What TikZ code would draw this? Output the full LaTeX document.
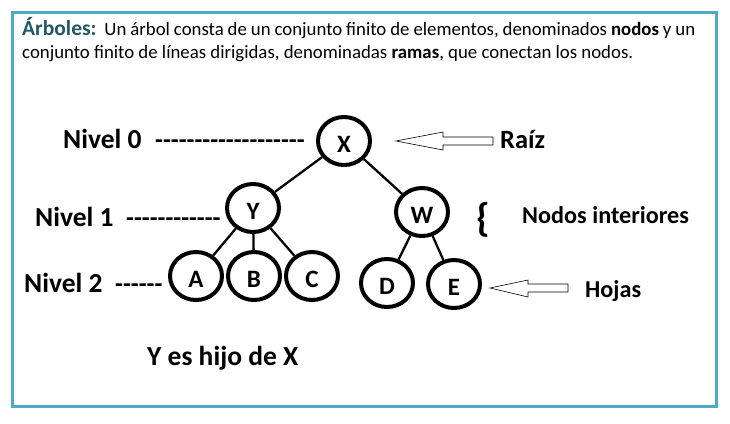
\documentclass[tikz,border=0pt]{standalone}
\usepackage{fontspec}
\newfontfamily\carl{Carlito}
\usetikzlibrary{shapes.geometric}
\definecolor{frameaqua}{HTML}{4BACC6}
\definecolor{headteal}{HTML}{215868}
\tikzset{
  treenode/.style={draw, ellipse, line width=4pt, minimum width=52pt, minimum height=48pt,
    inner sep=0pt, text height=22pt, text depth=0pt, font=\carl\bfseries\fontsize{25}{27}\selectfont},
  branch/.style={line width=2.3pt},
  biglabel/.style={anchor=base west, inner sep=0pt, font=\carl\bfseries\fontsize{27.5}{29}\selectfont},
  dashlabel/.style={anchor=base west, inner sep=0pt, font=\carl\bfseries\fontsize{25.7}{27}\selectfont},
  sidelabel/.style={anchor=base west, inner sep=0pt, font=\carl\bfseries\fontsize{24.2}{26}\selectfont},
  bodytext/.style={anchor=base west, inner sep=0pt, font=\carl\fontsize{18.8}{21}\selectfont},
  hollowarrow/.style={draw=black, fill=white, line width=0.6pt, line join=miter}
}
\begin{document}
\begin{tikzpicture}[x=1pt,y=-1pt]
\useasboundingbox (0,0) rectangle (730,423);
% outer frame
\draw[frameaqua, line width=3pt] (12.5,12.5) rectangle (716.5,406.5);

% heading and definition (first line justified)
\node[bodytext] (def1) at (22,35) {\makebox[673pt][s]{{\color{headteal}\fontsize{21.5}{23}\selectfont\bfseries Árboles:}\ \ Un árbol consta de un conjunto finito de elementos, denominados \textbf{nodos} y un}};
\node[bodytext] (def2) at (22,58) {conjunto finito de líneas dirigidas, denominadas \textbf{ramas}, que conectan los nodos.};

% tree nodes
\node[treenode] (X) at (344,141) {X};
\node[treenode] (Y) at (253,208) {Y};
\node[treenode] (W) at (422,212) {W};
\node[treenode] (A) at (196,276) {A};
\node[treenode] (B) at (254,276) {B};
\node[treenode] (C) at (312,276) {C};
\node[treenode] (D) at (387,283) {D};
\node[treenode] (E) at (454,284) {E};

% branches
\draw[branch] (X) -- (Y);
\draw[branch] (X) -- (W);
\draw[branch] (Y) -- (A);
\draw[branch] (Y) -- (B);
\draw[branch] (Y) -- (C);
\draw[branch] (W) -- (D);
\draw[branch] (W) -- (E);

% level labels
\node[biglabel] (n0) at (63,148) {Nivel 0};
\node[dashlabel] (d0) at (155,148) {-------------------};
\node[biglabel] (n1) at (35,226) {Nivel 1};
\node[dashlabel] (d1) at (126,226) {------------};
\node[biglabel] (n2) at (24,292) {Nivel 2};
\node[dashlabel] (d2) at (115,292) {------};

% root pointer
\node[biglabel, font=\carl\bfseries\fontsize{26.4}{28}\selectfont] (raiz) at (500,148) {Raíz};
\draw[hollowarrow] (493,137) -- (443,137) -- (443,132) -- (396,141) -- (443,150) -- (443,145) -- (493,145) -- cycle;

% interior nodes
\node[anchor=base west, inner sep=0pt, font=\carl\bfseries\fontsize{40}{42}\selectfont] (brace) at (476,231) {\{};
\node[sidelabel] (interior) at (522,223) {Nodos interiores};

% leaves pointer
\node[sidelabel] (hojas) at (585,297) {Hojas};
\draw[hollowarrow] (568,284) -- (528,284) -- (528,280) -- (490,288) -- (528,297) -- (528,292) -- (568,292) -- cycle;

% caption
\node[biglabel] (hijo) at (147,365) {Y es hijo de X};
\end{tikzpicture}
\end{document}
